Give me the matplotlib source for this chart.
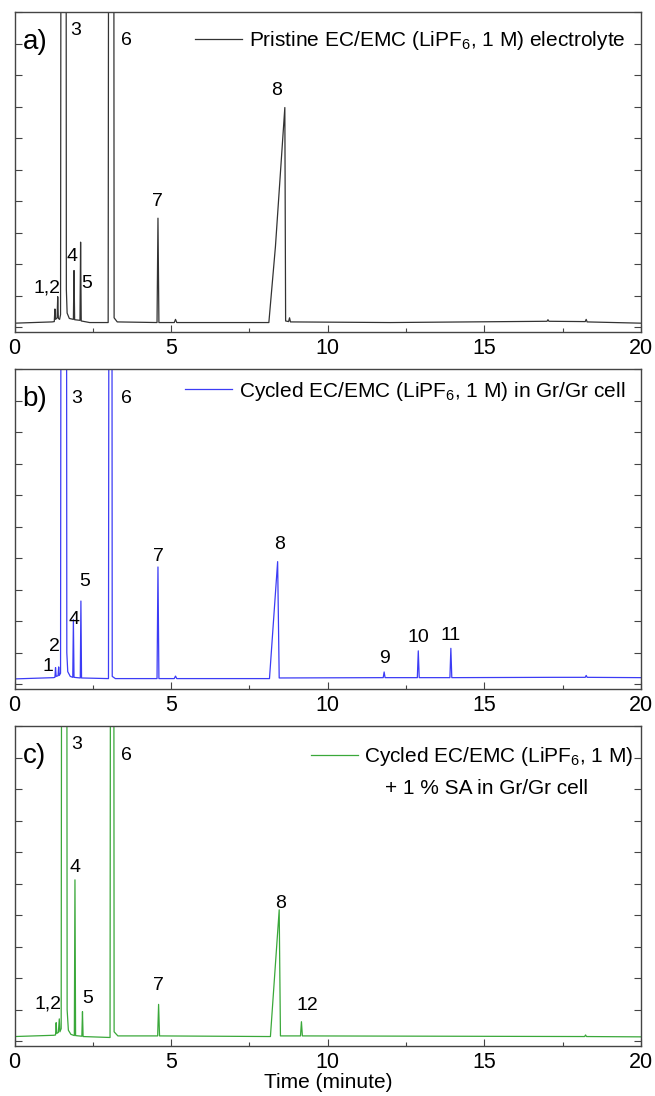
import numpy as np
import matplotlib
matplotlib.use('Agg')
import matplotlib.pyplot as plt
from matplotlib.ticker import MultipleLocator

plt.rcParams['font.family'] = ['Liberation Sans', 'DejaVu Sans']
plt.rcParams['mathtext.fontset'] = 'custom'
plt.rcParams['mathtext.rm'] = 'Liberation Sans'
plt.rcParams['mathtext.it'] = 'Liberation Sans:italic'

# Chromatogramy: czas (min) i sygnal (j. umowne)
# piki 3 i 6 wychodza poza skale
t_a = [0.0, 1.20, 1.27, 1.29, 1.31, 1.36, 1.38, 1.40, 1.44, 1.47, 1.50, 1.64,
       1.655, 1.68, 1.75, 1.88, 1.90, 1.92, 2.09, 2.11, 2.13, 2.40, 2.99, 3.02,
       3.16, 3.18, 3.28, 4.55, 4.58, 4.61, 5.10, 5.14, 5.18, 8.12, 8.33, 8.63,
       8.655, 8.75, 8.78, 8.81, 12.0, 17.0, 17.03, 17.06, 18.22, 18.25, 18.28, 20.0]
s_a = [0.13, 0.17, 0.18, 0.58, 0.25, 0.30, 0.97, 0.28, 0.25, 0.40, 30.0, 30.0,
       1.2, 0.45, 0.28, 0.25, 1.80, 0.24, 0.22, 2.70, 0.20, 0.15, 0.15, 30.0,
       30.0, 0.30, 0.17, 0.15, 3.46, 0.15, 0.15, 0.25, 0.15, 0.15, 2.56, 6.97,
       0.20, 0.18, 0.30, 0.17, 0.15, 0.19, 0.24, 0.19, 0.18, 0.25, 0.17, 0.13]

t_b = [0.0, 1.25, 1.29, 1.31, 1.33, 1.39, 1.41, 1.43, 1.47, 1.50, 1.65, 1.67,
       1.70, 1.78, 1.86, 1.88, 1.90, 2.10, 2.12, 2.14, 3.00, 3.03, 3.10, 3.12,
       3.22, 4.55, 4.58, 4.61, 5.10, 5.14, 5.18, 8.14, 8.40, 8.45, 11.77, 11.80,
       11.83, 12.86, 12.89, 12.92, 13.90, 13.93, 13.96, 17.2, 18.22, 18.25, 18.28, 20.0]
s_b = [0.17, 0.21, 0.22, 0.53, 0.25, 0.27, 0.55, 0.28, 0.35, 30.0, 30.0, 1.0,
       0.40, 0.25, 0.22, 2.05, 0.22, 0.20, 2.64, 0.20, 0.18, 30.0, 30.0, 0.25,
       0.18, 0.18, 3.72, 0.18, 0.18, 0.26, 0.18, 0.18, 3.89, 0.20, 0.21, 0.39,
       0.21, 0.21, 1.06, 0.21, 0.21, 1.14, 0.21, 0.22, 0.22, 0.28, 0.22, 0.21]

t_c = [0.0, 1.25, 1.31, 1.33, 1.35, 1.40, 1.43, 1.45, 1.49, 1.52, 1.66, 1.68,
       1.72, 1.80, 1.91, 1.93, 1.95, 2.15, 2.17, 2.19, 3.05, 3.08, 3.16, 3.18,
       3.30, 4.57, 4.60, 4.63, 8.17, 8.45, 8.49, 9.13, 9.16, 9.19, 18.2, 18.23,
       18.26, 20.0]
s_c = [0.15, 0.19, 0.20, 0.59, 0.25, 0.28, 0.71, 0.30, 0.40, 30.0, 30.0, 1.0,
       0.35, 0.22, 0.18, 5.12, 0.18, 0.16, 0.94, 0.15, 0.12, 30.0, 30.0, 0.30,
       0.17, 0.17, 1.17, 0.17, 0.15, 4.17, 0.17, 0.17, 0.62, 0.17, 0.15, 0.20,
       0.15, 0.14]

labels = ['Pristine EC/EMC (LiPF$_{6}$, 1 M) electrolyte',
          'Cycled EC/EMC (LiPF$_{6}$, 1 M) in Gr/Gr cell',
          'Cycled EC/EMC (LiPF$_{6}$, 1 M)']
label_extra = '+ 1 % SA in Gr/Gr cell'
panels = ['a)', 'b)', 'c)']
colors = ['#333333', '#3c3cf5', '#3aa83a']

# numery pikow (tekst, x, y)
peaks = [
    [('1,2', 1.04, 1.24), ('3', 1.95, 9.40), ('4', 1.83, 2.25), ('5', 2.29, 1.40),
     ('6', 3.56, 9.10), ('7', 4.56, 4.00), ('8', 8.37, 7.52)],
    [('1', 1.07, 0.55), ('2', 1.26, 1.19), ('3', 1.97, 9.05), ('4', 1.89, 2.05),
     ('5', 2.24, 3.26), ('6', 3.57, 9.05), ('7', 4.58, 4.06), ('8', 8.46, 4.42),
     ('9', 11.80, 0.83), ('10', 12.89, 1.48), ('11', 13.91, 1.56)],
    [('1,2', 1.06, 1.18), ('3', 1.97, 9.40), ('4', 1.94, 5.51), ('5', 2.34, 1.36),
     ('6', 3.57, 9.07), ('7', 4.59, 1.76), ('8', 8.48, 4.38), ('12', 9.34, 1.14)],
]
# polozenie legendy (prawy brzeg tekstu, srodek linii) w ukladzie osi
leg_pos = [(0.9745, 0.910), (0.9745, 0.931), (0.9876, 0.905)]

data = [(t_a, s_a), (t_b, s_b), (t_c, s_c)]

fig, axes = plt.subplots(3, 1, figsize=(6.55, 10.96), dpi=100)
fig.subplots_adjust(left=14.5 / 655, right=641 / 655, top=1 - 12 / 1096,
                    bottom=1 - 1046 / 1096, hspace=37 / 320)

for i, ax in enumerate(axes):
    t, s = data[i]
    ax.plot(t, s, color=colors[i], lw=0.9, label=labels[i])
    ax.set_xlim(0, 20)
    ax.set_ylim(-0.15, 10)

    ax.xaxis.set_major_locator(MultipleLocator(5))
    ax.xaxis.set_minor_locator(MultipleLocator(2.5))
    ax.yaxis.set_major_locator(MultipleLocator(1))
    ax.set_yticklabels([])
    ax.tick_params(axis='both', which='both', direction='in', color='#444444')
    ax.tick_params(axis='y', which='major', length=5, width=0.8, left=True, right=True)
    ax.tick_params(axis='x', which='major', length=5, width=0.8, labelsize=15.5, pad=4)
    ax.tick_params(axis='x', which='minor', length=3, width=0.8)
    for sp in ax.spines.values():
        sp.set_color('#444444')
        sp.set_linewidth(1.0)

    ax.text(0.013, 0.905, panels[i], transform=ax.transAxes, fontsize=20,
            ha='left', va='center')
    for txt, x, y in peaks[i]:
        ax.text(x, y, txt, fontsize=14, ha='center', va='center')

    ax.legend(loc='center right', bbox_to_anchor=leg_pos[i], frameon=False,
              fontsize=15, handlelength=2.25, handletextpad=0.3,
              borderpad=0, borderaxespad=0)

# druga linia legendy w c)
axes[2].text(0.754, 0.806, label_extra, transform=axes[2].transAxes,
             fontsize=15, ha='center', va='center')
axes[2].set_xlabel('Time (minute)', fontsize=15, labelpad=0)

plt.savefig('out.png', dpi=100)
